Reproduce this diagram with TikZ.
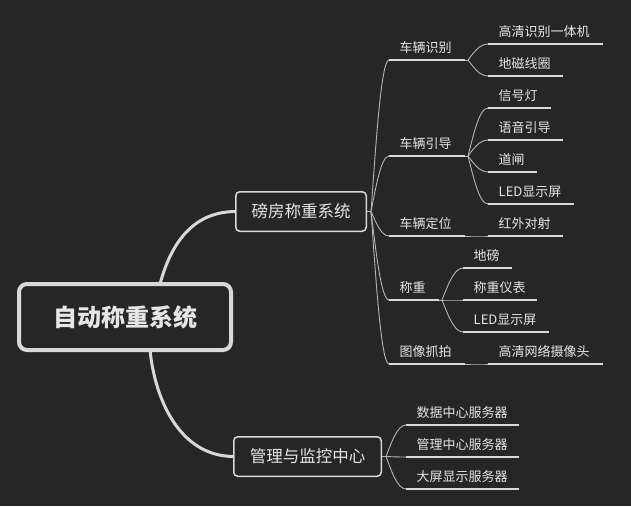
\documentclass[tikz,border=0pt]{standalone}
\usepackage{fontspec}
\setmainfont{Noto Sans CJK SC}
\usetikzlibrary{calc}
\definecolor{bg}{HTML}{262626}
\definecolor{ln}{HTML}{D8D8D8}
\definecolor{tx}{HTML}{E6E6E6}
\newcommand\topic[5]{%
  \coordinate (#1L) at (#2,#4);
  \coordinate (#1R) at (#3,#4);
  \draw[uline] (#1L) -- (#1R);
  \node[lbl] (#1) at (#2+10.5,#4-8) {#5};}
\newcommand\curv[2]{%
  \draw[conn] let \p1=(#1), \p2=(#2) in (\p1) .. controls ({\x1+0.25*(\x2-\x1)},{\y1+0.4*(\y2-\y1)}) and ({\x1+0.55*(\x2-\x1)},\y2) .. (\p2);}
\begin{document}
\begin{tikzpicture}[x=1pt,y=-1pt,
  uline/.style={ln, line width=2.2pt},
  conn/.style={ln!80!bg, line width=0.9pt},
  thickconn/.style={ln, line width=3pt},
  lbl/.style={text=tx, font=\fontsize{13}{13}\selectfont, inner sep=0pt, anchor=base west},
  branch/.style={draw=ln, line width=1.5pt, rounded corners=4pt, fill=bg, text=tx,
    font=\fontsize{16.5}{16.5}\selectfont, inner sep=0pt, minimum height=39.5pt},
  rootbox/.style={draw=ln, line width=4pt, rounded corners=8pt, fill=bg, text=tx,
    font=\fontsize{24}{24}\selectfont\bfseries, inner sep=0pt, minimum width=212pt, minimum height=66pt}]
\useasboundingbox (0,0) rectangle (631,506);
\fill[bg] (0,0) rectangle (631,506);

% level-1 connectors
\coordinate (r1) at (160,284);
\coordinate (r2) at (150,350);
\coordinate (b1w) at (236,211.5);
\coordinate (b2w) at (234,456.5);
\draw[thickconn] (r1) .. controls (172,240) and (195,211.5) .. (b1w);
\draw[thickconn] (r2) .. controls (155,400) and (180,456.5) .. (b2w);

\node[rootbox] (root) at (125,317) {自动称重系统};
\node[branch, minimum width=130.5pt] (b1) at (301,211.5) {磅房称重系统};
\node[branch, minimum width=147.5pt] (b2) at (307.5,456.5) {管理与监控中心};

% level 2 under b1
\coordinate (b1o) at (371,211.5);
\draw[conn] (b1.east) -- (b1o);
\topic{t1}{389}{465}{60}{车辆识别}
\topic{t2}{389}{465}{156}{车辆引导}
\topic{t3}{389}{465}{236}{车辆定位}
\topic{t4}{389}{439}{300}{称重}
\topic{t5}{389}{465}{364}{图像抓拍}
\foreach \t in {t1,t2,t3,t4,t5} {\curv{b1o}{\t L}}

% level 3
\coordinate (t1o) at (468,60);
\coordinate (t2o) at (468,156);
\coordinate (t3o) at (468,236);
\coordinate (t4o) at (442,300);
\coordinate (t5o) at (468,364);
\foreach \t in {t1,t2,t3,t4,t5} {\draw[conn] (\t R) -- (\t o);}

\topic{l1}{488}{603}{44}{高清识别一体机}
\topic{l2}{488}{563}{76}{地磁线圈}
\topic{l3}{488}{551}{108}{信号灯}
\topic{l4}{488}{563}{140}{语音引导}
\topic{l5}{488}{537}{172}{道闸}
\topic{l6}{488}{574}{204}{LED显示屏}
\topic{l7}{488}{563}{236}{红外对射}
\topic{l8}{463}{512}{268}{地磅}
\topic{l9}{463}{537}{300}{称重仪表}
\topic{l10}{463}{549}{332}{LED显示屏}
\topic{l11}{488}{603}{364}{高清网络摄像头}

\curv{t1o}{l1L}\curv{t1o}{l2L}
\curv{t2o}{l3L}\curv{t2o}{l4L}\curv{t2o}{l5L}\curv{t2o}{l6L}
\curv{t3o}{l7L}
\curv{t4o}{l8L}\curv{t4o}{l9L}\curv{t4o}{l10L}
\curv{t5o}{l11L}

% level 2 under b2
\coordinate (b2o) at (386,456.5);
\draw[conn] (b2.east) -- (b2o);
\topic{m1}{406}{519}{425}{数据中心服务器}
\topic{m2}{406}{519}{457}{管理中心服务器}
\topic{m3}{406}{519}{489}{大屏显示服务器}
\curv{b2o}{m1L}\curv{b2o}{m2L}\curv{b2o}{m3L}
\end{tikzpicture}
\end{document}
